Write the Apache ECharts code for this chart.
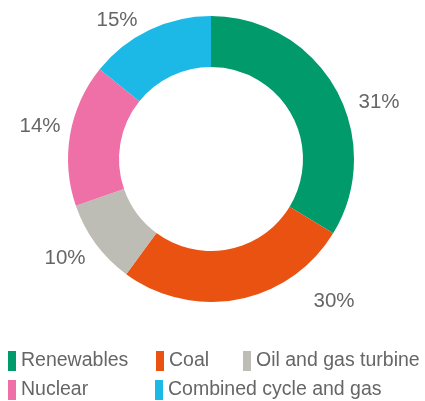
<!DOCTYPE html>
<html>
<head>
<meta charset="utf-8">
<script src="https://cdn.jsdelivr.net/npm/echarts@6/dist/echarts.min.js"></script>
<style>
html,body{margin:0;padding:0;background:#fff;}
#chart{width:425px;height:401px;}
</style>
</head>
<body>
<div id="chart"></div>
<script>
// Data
var categories = ['Renewables', 'Coal', 'Oil and gas turbine', 'Nuclear', 'Combined cycle and gas'];
// Slice shares as drawn (measured arc sizes, %)
var sliceShares = [33.7, 26.4, 9.6, 16.1, 14.2];
// Printed percentage labels
var labelTexts = ['31%', '30%', '10%', '14%', '15%'];

// Styling / layout (not data)
var colors = ['#009A6B', '#EA5212', '#BDBDB6', '#EE70A6', '#1CB9E6'];
var center = [211, 159];
var labelOffsets = [[168, -57], [123, 142], [-146, 99], [-171, -33], [-94, -139]];
var legendPos = [[8, 351], [156, 351], [243, 351], [8, 380], [155, 380]];

var chart = echarts.init(document.getElementById('chart'), null, {renderer: 'canvas'});

var legends = categories.map(function (name, i) {
  return {
    data: [name],
    left: legendPos[i][0],
    top: legendPos[i][1],
    padding: 0,
    itemWidth: 8,
    itemHeight: 20,
    itemGap: 5,
    icon: 'rect',
    selectedMode: false,
    textStyle: {fontFamily: 'Liberation Sans, Arial, sans-serif', fontSize: 19.5, color: '#666666', padding: [0, 0, 0, 0]}
  };
});

chart.setOption({
  animation: false,
  color: colors,
  legend: legends,
  series: [{
    type: 'pie',
    center: center,
    radius: [92, 143],
    startAngle: 90,
    clockwise: true,
    avoidLabelOverlap: false,
    silent: true,
    label: {
      show: true,
      position: 'outside',
      formatter: function (p) { return labelTexts[p.dataIndex]; },
      fontFamily: 'Liberation Sans, Arial, sans-serif',
      fontSize: 20.5,
      color: '#666666'
    },
    labelLine: {show: false},
    labelLayout: function (p) {
      var o = labelOffsets[p.dataIndex];
      return {x: center[0] + o[0], y: center[1] + o[1], align: 'center', verticalAlign: 'middle'};
    },
    data: categories.map(function (name, i) {
      return {name: name, value: sliceShares[i]};
    })
  }]
});
</script>
</body>
</html>
